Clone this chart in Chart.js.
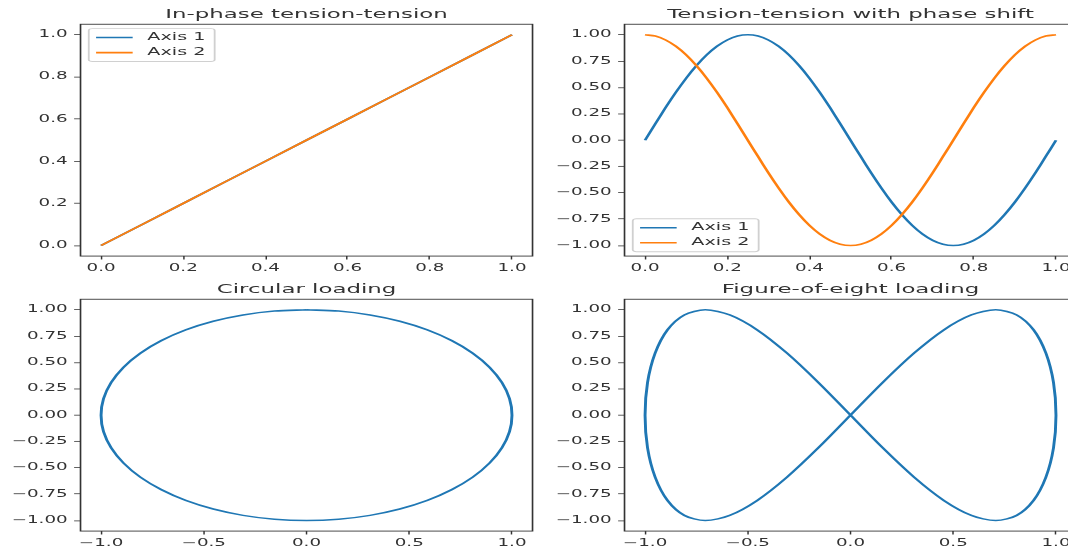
<!DOCTYPE html>
<html>
<head>
<meta charset="utf-8">
<script src="https://cdn.jsdelivr.net/npm/chart.js@4"></script>
<style>
  html, body { margin: 0; padding: 0; background: #fff; overflow: hidden; }
  body { width: 1068px; height: 549px; position: relative; }
  canvas { position: absolute; }
</style>
</head>
<body>
<canvas id="c0" width="299" height="284"></canvas>
<canvas id="c1" width="299" height="284"></canvas>
<canvas id="c2" width="299" height="284"></canvas>
<canvas id="c3" width="299" height="284"></canvas>
<script>
const seriesNames = ['Axis 1', 'Axis 2'];
const panelTitles = ['In-phase tension-tension', 'Tension-tension with phase shift',
  'Circular loading', 'Figure-of-eight loading'];

// in-phase: both axes follow the same ramp
const rampTime = [0, 0.1, 0.2, 0.3, 0.4, 0.5, 0.6, 0.7, 0.8, 0.9, 1.0];
const rampAxis1 = [0, 0.1, 0.2, 0.3, 0.4, 0.5, 0.6, 0.7, 0.8, 0.9, 1.0];
const rampAxis2 = [0, 0.1, 0.2, 0.3, 0.4, 0.5, 0.6, 0.7, 0.8, 0.9, 1.0];

// phase shift
const phaseTime = [0, 0.025, 0.05, 0.075, 0.1, 0.125, 0.15, 0.175, 0.2, 0.225, 0.25,
  0.275, 0.3, 0.325, 0.35, 0.375, 0.4, 0.425, 0.45, 0.475, 0.5,
  0.525, 0.55, 0.575, 0.6, 0.625, 0.65, 0.675, 0.7, 0.725, 0.75,
  0.775, 0.8, 0.825, 0.85, 0.875, 0.9, 0.925, 0.95, 0.975, 1.0];
const phaseAxis1 = [0, 0.156, 0.309, 0.454, 0.588, 0.707, 0.809, 0.891, 0.951, 0.988, 1,
  0.988, 0.951, 0.891, 0.809, 0.707, 0.588, 0.454, 0.309, 0.156, 0,
  -0.156, -0.309, -0.454, -0.588, -0.707, -0.809, -0.891, -0.951, -0.988, -1,
  -0.988, -0.951, -0.891, -0.809, -0.707, -0.588, -0.454, -0.309, -0.156, 0];
const phaseAxis2 = [1, 0.988, 0.951, 0.891, 0.809, 0.707, 0.588, 0.454, 0.309, 0.156, 0,
  -0.156, -0.309, -0.454, -0.588, -0.707, -0.809, -0.891, -0.951, -0.988, -1,
  -0.988, -0.951, -0.891, -0.809, -0.707, -0.588, -0.454, -0.309, -0.156, 0,
  0.156, 0.309, 0.454, 0.588, 0.707, 0.809, 0.891, 0.951, 0.988, 1];

// circular path (axis 1 vs axis 2)
const circleX = [0, 0.156, 0.309, 0.454, 0.588, 0.707, 0.809, 0.891, 0.951, 0.988, 1,
  0.988, 0.951, 0.891, 0.809, 0.707, 0.588, 0.454, 0.309, 0.156, 0,
  -0.156, -0.309, -0.454, -0.588, -0.707, -0.809, -0.891, -0.951, -0.988, -1,
  -0.988, -0.951, -0.891, -0.809, -0.707, -0.588, -0.454, -0.309, -0.156, 0];
const circleY = [1, 0.988, 0.951, 0.891, 0.809, 0.707, 0.588, 0.454, 0.309, 0.156, 0,
  -0.156, -0.309, -0.454, -0.588, -0.707, -0.809, -0.891, -0.951, -0.988, -1,
  -0.988, -0.951, -0.891, -0.809, -0.707, -0.588, -0.454, -0.309, -0.156, 0,
  0.156, 0.309, 0.454, 0.588, 0.707, 0.809, 0.891, 0.951, 0.988, 1];

// figure-of-eight path
const eightX = [0, 0.156, 0.309, 0.454, 0.588, 0.707, 0.809, 0.891, 0.951, 0.988, 1,
  0.988, 0.951, 0.891, 0.809, 0.707, 0.588, 0.454, 0.309, 0.156, 0,
  -0.156, -0.309, -0.454, -0.588, -0.707, -0.809, -0.891, -0.951, -0.988, -1,
  -0.988, -0.951, -0.891, -0.809, -0.707, -0.588, -0.454, -0.309, -0.156, 0];
const eightY = [0, 0.309, 0.588, 0.809, 0.951, 1, 0.951, 0.809, 0.588, 0.309, 0,
  -0.309, -0.588, -0.809, -0.951, -1, -0.951, -0.809, -0.588, -0.309, 0,
  0.309, 0.588, 0.809, 0.951, 1, 0.951, 0.809, 0.588, 0.309, 0,
  -0.309, -0.588, -0.809, -0.951, -1, -0.951, -0.809, -0.588, -0.309, 0];

// tick positions
const unitTicks = [0, 0.2, 0.4, 0.6, 0.8, 1.0];
const amplitudeTicks = [-1, -0.75, -0.5, -0.25, 0, 0.25, 0.5, 0.75, 1];
const pathTicks = [-1, -0.5, 0, 0.5, 1];

const BLUE = '#1f77b4';
const ORANGE = '#ff7f0e';
const FONT = 'DejaVu Sans';
const INK = '#333';
// the reference figure is stretched much more horizontally than vertically
const SX = 1.83;
const SY = 0.97;

function pts(xs, ys) {
  return xs.map((x, i) => ({ x: x, y: ys[i] }));
}

function fmt(v, decimals) {
  return v.toFixed(decimals).replace('-', '\u2212');
}

function axis(min, max, ticks, decimals, isY) {
  return {
    type: 'linear',
    min: min,
    max: max,
    afterBuildTicks: (s) => { s.ticks = ticks.map((v) => ({ value: v })); },
    afterFit: (s) => { if (isY) s.width = 44; else s.height = 18; },
    grid: { display: true, drawOnChartArea: false, drawTicks: true,
            tickLength: 3.5, tickWidth: 0.8, tickColor: INK },
    border: { display: false },
    ticks: {
      font: { family: FONT, size: 10 },
      color: INK,
      padding: 3.5,
      maxRotation: 0,
      autoSkip: false,
      callback: (v) => fmt(v, decimals),
    },
  };
}

// four spines round the plot area, drawn over the lines like matplotlib
const framePlugin = {
  id: 'frame',
  afterDatasetsDraw(chart) {
    const a = chart.chartArea;
    const ctx = chart.ctx;
    ctx.save();
    ctx.strokeStyle = INK;
    ctx.lineWidth = 0.9;
    ctx.strokeRect(a.left, a.top, a.right - a.left, a.bottom - a.top);
    ctx.restore();
  },
};

// title centred over the axes
const panelTitle = {
  id: 'panelTitle',
  afterDraw(chart, args, opts) {
    const a = chart.chartArea;
    const ctx = chart.ctx;
    ctx.save();
    ctx.font = '12.5px "' + FONT + '"';
    ctx.fillStyle = INK;
    ctx.textAlign = 'center';
    ctx.textBaseline = 'alphabetic';
    ctx.fillText(opts.text, (a.left + a.right) / 2, a.top - 6);
    ctx.restore();
  },
};

// legend box inside the axes
const innerLegend = {
  id: 'innerLegend',
  afterDraw(chart, args, opts) {
    if (!opts.corner) return;
    const ctx = chart.ctx;
    const a = chart.chartArea;
    const sets = chart.data.datasets;
    ctx.save();
    ctx.font = '10.5px "' + FONT + '"';
    const textW = Math.max(...sets.map((d) => ctx.measureText(d.label).width));
    const pad = 4, handle = 20, gap = 8, rowH = 10.5, space = 5, axPad = 4.5;
    const w = pad + handle + gap + textW + pad + 1;
    const h = pad * 2 + sets.length * rowH + (sets.length - 1) * space;
    const x = a.left + axPad;
    const y = opts.corner === 'upper left' ? a.top + axPad : a.bottom - axPad - h;
    ctx.beginPath();
    ctx.roundRect(x, y, w, h, 2);
    ctx.fillStyle = 'rgba(255,255,255,0.8)';
    ctx.fill();
    ctx.strokeStyle = '#d0d0d0';
    ctx.lineWidth = 1;
    ctx.stroke();
    sets.forEach((d, i) => {
      const cy = y + pad + rowH / 2 + i * (rowH + space);
      ctx.beginPath();
      ctx.moveTo(x + pad, cy);
      ctx.lineTo(x + pad + handle, cy);
      ctx.strokeStyle = d.borderColor;
      ctx.lineWidth = d.borderWidth;
      ctx.stroke();
      ctx.fillStyle = INK;
      ctx.textBaseline = 'middle';
      ctx.fillText(d.label, x + pad + handle + gap, cy);
    });
    ctx.restore();
  },
};

function line(label, data, color, order, tension) {
  return {
    label: label,
    data: data,
    showLine: true,
    fill: false,
    borderColor: color,
    borderWidth: 1.6,
    pointRadius: 0,
    tension: tension,
    order: order,
  };
}

// chart is laid out in figure units, then drawn into a canvas of the
// stretched size with an anisotropic transform
function makeChart(id, left, top, title, datasets, xAxis, yAxis, corner) {
  const chart = new Chart(document.getElementById(id), {
    type: 'scatter',
    data: { datasets: datasets },
    options: {
      responsive: false,
      animation: false,
      devicePixelRatio: 1,
      layout: { padding: { top: 25, right: 8, bottom: 2, left: 0 } },
      plugins: {
        legend: { display: false },
        tooltip: { enabled: false },
        panelTitle: { text: title },
        innerLegend: { corner: corner },
      },
      scales: { x: xAxis, y: yAxis },
    },
    plugins: [framePlugin, panelTitle, innerLegend],
  });
  const c = chart.canvas;
  c.width = Math.round(chart.width * SX);
  c.height = Math.round(chart.height * SY);
  c.style.width = c.width + 'px';
  c.style.height = c.height + 'px';
  c.style.left = Math.round(left * SX) + 'px';
  c.style.top = Math.round(top * SY) + 'px';
  chart.ctx.setTransform(SX, 0, 0, SY, 0, 0);
  chart.draw();
  return chart;
}

makeChart('c0', 0, 0, panelTitles[0], [
  line(seriesNames[0], pts(rampTime, rampAxis1), BLUE, 1, 0),
  line(seriesNames[1], pts(rampTime, rampAxis2), ORANGE, 0, 0),
], axis(-0.05, 1.05, unitTicks, 1, false), axis(-0.05, 1.05, unitTicks, 1, true), 'upper left');

makeChart('c1', 297, 0, panelTitles[1], [
  line(seriesNames[0], pts(phaseTime, phaseAxis1), BLUE, 1, 0.3),
  line(seriesNames[1], pts(phaseTime, phaseAxis2), ORANGE, 0, 0.3),
], axis(-0.05, 1.05, unitTicks, 1, false), axis(-1.1, 1.1, amplitudeTicks, 2, true), 'lower left');

makeChart('c2', 0, 283, panelTitles[2], [
  line(seriesNames[0], pts(circleX, circleY), BLUE, 0, 0.3),
], axis(-1.1, 1.1, pathTicks, 1, false), axis(-1.1, 1.1, amplitudeTicks, 2, true), null);

makeChart('c3', 297, 283, panelTitles[3], [
  line(seriesNames[0], pts(eightX, eightY), BLUE, 0, 0.3),
], axis(-1.1, 1.1, pathTicks, 1, false), axis(-1.1, 1.1, amplitudeTicks, 2, true), null);
</script>
</body>
</html>
